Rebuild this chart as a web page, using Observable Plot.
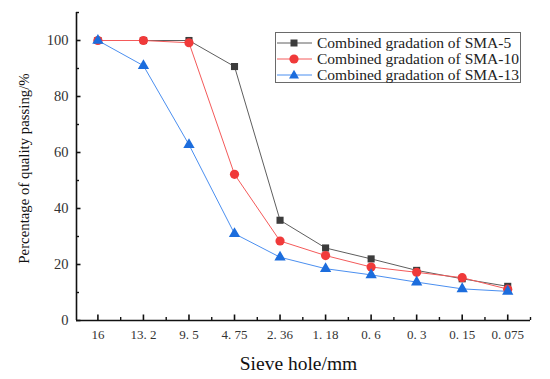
<!DOCTYPE html>
<html>
<head>
<meta charset="utf-8">
<script src="https://cdn.jsdelivr.net/npm/d3@7"></script>
<script src="https://cdn.jsdelivr.net/npm/@observablehq/plot@0.6"></script>
<style>
  html, body { margin: 0; padding: 0; background: #fff; }
  #wrap { position: relative; width: 550px; height: 379px; overflow: hidden; }
  #legend { position: absolute; left: 275px; top: 32px; width: 244px; height: 49px;
    border: 1px solid #6a6a6a; background: #fff; font-family: "Liberation Serif", serif; font-size: 15.5px; color: #222; }
  .row { position: absolute; left: 0; height: 16px; line-height: 16px; white-space: nowrap; }
  .row svg { position: absolute; left: 1px; top: 0; }
  .row span { position: absolute; left: 41px; top: 0; }
</style>
</head>
<body>
<div id="wrap"></div>
<script>
const sieves = ["16", "13. 2", "9. 5", "4. 75", "2. 36", "1. 18", "0. 6", "0. 3", "0. 15", "0. 075"];
const sma5  = [100, 100, 100, 90.7, 35.8, 25.9, 22.0, 17.9, 14.9, 12.2];
const sma10 = [100, 100, 99.2, 52.2, 28.4, 23.2, 19.1, 17.2, 15.3, 11.2];
const sma13 = [100, 91.0, 62.8, 31.0, 22.6, 18.5, 16.3, 13.7, 11.3, 10.4];
const seriesNames = ["Combined gradation of SMA-5", "Combined gradation of SMA-10", "Combined gradation of SMA-13"];
const yMajor = [0, 20, 40, 60, 80, 100];
const yMinor = [10, 30, 50, 70, 90, 110];

const styles = [
  {line: "#5e5e5e", fill: "#3c3c3c", symbol: "square", r: 4},
  {line: "#f45a5a", fill: "#f03a3a", symbol: "circle", r: 4.6},
  {line: "#4b8ff0", fill: "#1c6ddd", symbol: "triangle", r: 4.2}
];
const allSeries = [sma5, sma10, sma13];
const data = allSeries.flatMap((vals, s) => vals.map((v, i) => ({i, v, s})));
const idx = sieves.map((_, i) => i);
const xMinor = sieves.map((_, i) => i + 0.5);

const W = 550, H = 379, mL = 76, mR = 20, mT = 12, mB = 59;
const fw = W - mL - mR, fh = H - mT - mB;
const serif = "Liberation Serif, Times New Roman, serif";

const marks = [];
allSeries.forEach((vals, s) => {
  const d = data.filter(p => p.s === s);
  marks.push(Plot.line(d, {x: "i", y: "v", stroke: styles[s].line, strokeWidth: 1}));
});
allSeries.forEach((vals, s) => {
  const d = data.filter(p => p.s === s);
  marks.push(Plot.dot(d, {x: "i", y: "v", symbol: () => styles[s].symbol, r: styles[s].r, fill: styles[s].fill, stroke: "none"}));
});

const chart = Plot.plot({
  width: W,
  height: H,
  marginLeft: mL,
  marginRight: mR,
  marginTop: mT,
  marginBottom: mB,
  style: {background: "#fff", fontFamily: serif, color: "#222"},
  x: {type: "linear", domain: [-0.47, 9.5]},
  y: {domain: [0, 110]},
  symbol: {type: "identity"},
  marks: [
    ...marks,
    Plot.tickX(idx, {x: d => d, insetTop: fh - 5.5, stroke: "#111", strokeWidth: 1.6}),
    Plot.tickX(xMinor, {x: d => d, insetTop: fh - 3, stroke: "#111", strokeWidth: 1.4}),
    Plot.tickY(yMajor, {y: d => d, insetRight: fw - 4.5, stroke: "#111", strokeWidth: 1.6}),
    Plot.tickY(yMinor, {y: d => d, insetRight: fw - 3, stroke: "#111", strokeWidth: 1.4}),
    Plot.ruleY([0], {stroke: "#111", strokeWidth: 1.6}),
    Plot.ruleX([-0.47], {stroke: "#111", strokeWidth: 1.6}),
    Plot.axisX({ticks: idx, tickSize: 0, tickPadding: 9, tickFormat: i => sieves[i], fontSize: 13, fill: "#333", label: null}),
    Plot.axisY({ticks: yMajor, tickSize: 0, tickPadding: 8, fontSize: 14.5, fill: "#333", label: null}),
    Plot.text(["Sieve hole/mm"], {frameAnchor: "bottom", textAnchor: "middle", dy: 49, dx: -5, fontSize: 19.5, fill: "#111", fontFamily: serif}),
    Plot.text(["Percentage of quality passing/%"], {frameAnchor: "left", textAnchor: "middle", rotate: -90, dx: -52, dy: 2, fontSize: 14.8, fill: "#111", fontFamily: serif})
  ]
});
document.getElementById("wrap").appendChild(chart);

// legend
const legend = document.createElement("div");
legend.id = "legend";
const rowTops = [2, 18, 34];
seriesNames.forEach((name, s) => {
  const row = document.createElement("div");
  row.className = "row";
  row.style.top = rowTops[s] + "px";
  const st = styles[s];
  let marker;
  if (st.symbol === "square") marker = `<rect x="13.5" y="4.5" width="7" height="7" fill="${st.fill}"/>`;
  else if (st.symbol === "circle") marker = `<circle cx="17" cy="8" r="${st.r}" fill="${st.fill}"/>`;
  else marker = `<path d="M17,2.8L22,11.5L12,11.5Z" fill="${st.fill}"/>`;
  row.innerHTML = `<svg width="36" height="16"><line x1="0" x2="35" y1="8" y2="8" stroke="${st.line}" stroke-width="1"/>${marker}</svg><span>${name}</span>`;
  legend.appendChild(row);
});
document.getElementById("wrap").appendChild(legend);
</script>
</body>
</html>
